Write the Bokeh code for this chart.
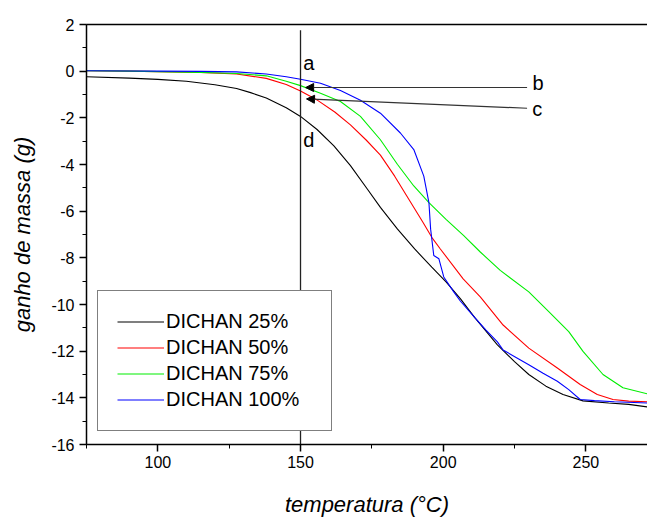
from bokeh.plotting import figure
from bokeh.models import (Range1d, SingleIntervalTicker, LinearAxis, FixedTicker,
                          Legend, LegendItem, Arrow, NormalHead, ColumnDataSource,
                          PrintfTickFormatter)
from bokeh.core.properties import value
from bokeh.embed import file_html
from bokeh.resources import INLINE

# ---- data ----
x25 = [75, 90, 100, 110, 120, 127.6, 132.5, 138, 145, 150, 155.8, 161.7, 167.5, 173.4, 178,
       184, 190, 196, 201, 206, 211, 219, 225, 230, 236, 242, 249, 258, 265, 271.6]
y25 = [-0.24, -0.30, -0.35, -0.43, -0.58, -0.74, -0.92, -1.15, -1.57, -1.94, -2.5, -3.2,
       -4.05, -5.05, -5.84, -6.77, -7.62, -8.4, -9.03, -9.75, -10.55, -11.73, -12.45,
       -13.0, -13.5, -13.86, -14.13, -14.22, -14.28, -14.39]

x50 = [75, 90, 100, 115, 127.6, 138, 145, 150, 156, 162, 167.5, 173, 178, 183, 188, 193,
       196, 199, 207, 213, 221, 230, 240, 248, 254, 259.5, 265, 271.6]
y50 = [0.02, 0.0, -0.02, -0.06, -0.12, -0.31, -0.57, -0.85, -1.25, -1.75, -2.3, -2.95,
       -3.6, -4.5, -5.5, -6.5, -7.12, -7.62, -8.9, -9.67, -10.88, -11.87, -12.72, -13.43,
       -13.86, -14.07, -14.14, -14.17]

x75 = [75, 90, 100, 115, 127.6, 138, 145, 150, 157, 164, 171, 178, 184, 189.7, 195, 201,
       207.2, 213, 220, 230, 237, 244, 249, 256, 263, 271.6]
y75 = [0.02, 0.0, -0.02, -0.05, -0.1, -0.2, -0.43, -0.62, -0.95, -1.3, -1.94, -2.94,
       -4.0, -4.92, -5.63, -6.35, -7.05, -7.75, -8.54, -9.46, -10.31, -11.16, -12.01,
       -13.0, -13.57, -13.83]

x100 = [75, 90, 100, 115, 127.6, 138, 145, 150, 157, 164, 171, 178, 185, 189.7, 193.2,
        195, 195.6, 196.7, 198.5, 200.2, 203.7, 206, 211, 215, 219, 221, 226, 230, 235,
        240, 244, 248, 253, 260, 271.6]
y100 = [0.02, 0.01, 0.0, -0.01, -0.03, -0.12, -0.24, -0.35, -0.52, -0.83, -1.25, -1.8,
        -2.65, -3.36, -4.5, -5.63, -6.77, -7.9, -8.04, -8.82, -9.46, -9.85, -10.55, -11.1,
        -11.6, -11.95, -12.3, -12.58, -12.95, -13.29, -13.65, -14.07, -14.12, -14.17, -14.22]

series_names = ["DICHAN 25%", "DICHAN 50%", "DICHAN 75%", "DICHAN 100%"]
series_colors = ["black", "#ff0000", "#00ee00", "#0000ff"]

# annotations
vline_x = [150]
vline_y0 = [1.75]
vline_y1 = [-16]
note_text = ["a", "d", "b", "c"]
note_x = [151.0, 151.0, 231.3, 231.2]
note_y = [0.35, -2.94, -0.51, -1.62]
arrow_x0 = [229.4, 229.4]
arrow_y0 = [-0.70, -1.59]
arrow_x1 = [151.8, 152.1]
arrow_y1 = [-0.70, -1.19]

FONT = "Liberation Sans"

p = figure(width=647, height=519, output_backend="svg", toolbar_location=None,
           x_range=Range1d(75, 271.6), y_range=Range1d(-16, 2),
           min_border_left=86, min_border_right=0, min_border_top=24,
           min_border_bottom=72, background_fill_color="white",
           border_fill_color="white")
p.grid.visible = False
p.outline_line_color = None

p.xaxis.ticker = SingleIntervalTicker(interval=50, num_minor_ticks=2)
p.yaxis.ticker = SingleIntervalTicker(interval=2, num_minor_ticks=2)
p.yaxis.formatter = PrintfTickFormatter(format="%d")
for ax in (p.xaxis, p.yaxis):
    ax.axis_line_width = 1.5
    ax.axis_line_color = "black"
    ax.major_tick_out = 7
    ax.major_tick_in = 0
    ax.minor_tick_out = 4
    ax.minor_tick_in = 0
    ax.major_tick_line_width = 1.5
    ax.minor_tick_line_width = 1
    ax.major_tick_line_color = "black"
    ax.minor_tick_line_color = "black"
    ax.major_label_text_font = FONT
    ax.major_label_text_font_size = "16px"
    ax.major_label_text_color = "black"
    ax.axis_label_text_font = FONT
    ax.axis_label_text_font_size = "22px"
    ax.axis_label_text_font_style = "italic"
    ax.axis_label_text_color = "black"

p.xaxis.axis_label = "temperatura (°C)"
p.yaxis.axis_label = "ganho de massa (g)"
p.xaxis.major_label_standoff = 4
p.xaxis.axis_label_standoff = 21
p.yaxis.major_label_standoff = 5
p.yaxis.axis_label_standoff = 13

top_axis = LinearAxis(ticker=FixedTicker(ticks=[]), axis_line_width=1.5,
                      axis_line_color="black", major_tick_out=0, minor_tick_out=0,
                      major_label_text_font_size="0px", major_label_standoff=0)
p.add_layout(top_axis, "above")

xs_list = [x25, x50, x75, x100]
ys_list = [y25, y50, y75, y100]
items = []
for name, col, xs, ys in zip(series_names, series_colors, xs_list, ys_list):
    r = p.line(xs, ys, line_color=col, line_width=1.1)
    items.append(LegendItem(label=name, renderers=[r]))

p.segment(x0=vline_x, y0=vline_y0, x1=vline_x, y1=vline_y1,
          line_color="#222222", line_width=1.3)

src = ColumnDataSource(dict(x=note_x, y=note_y, t=note_text))
p.text(x="x", y="y", text="t", source=src, text_font=value(FONT),
       text_font_size="20px", text_baseline="middle", text_align="left",
       text_color="black")

for xa, ya, xb, yb in zip(arrow_x0, arrow_y0, arrow_x1, arrow_y1):
    p.add_layout(Arrow(end=NormalHead(size=8, fill_color="black", line_color="black",
                                      line_width=1),
                       x_start=xa, y_start=ya, x_end=xb, y_end=yb,
                       line_color="#333333", line_width=1.2))

legend = Legend(items=items, location=(11, 13), padding=19, spacing=3,
                glyph_width=47, glyph_height=21, label_height=21, label_width=146,
                label_standoff=2, label_text_font=FONT, label_text_font_size="20px",
                label_text_color="black", border_line_color="black",
                border_line_width=1.2, background_fill_alpha=1.0, margin=0)
p.add_layout(legend, "center")

open("out.html", "w").write(file_html(p, INLINE))
